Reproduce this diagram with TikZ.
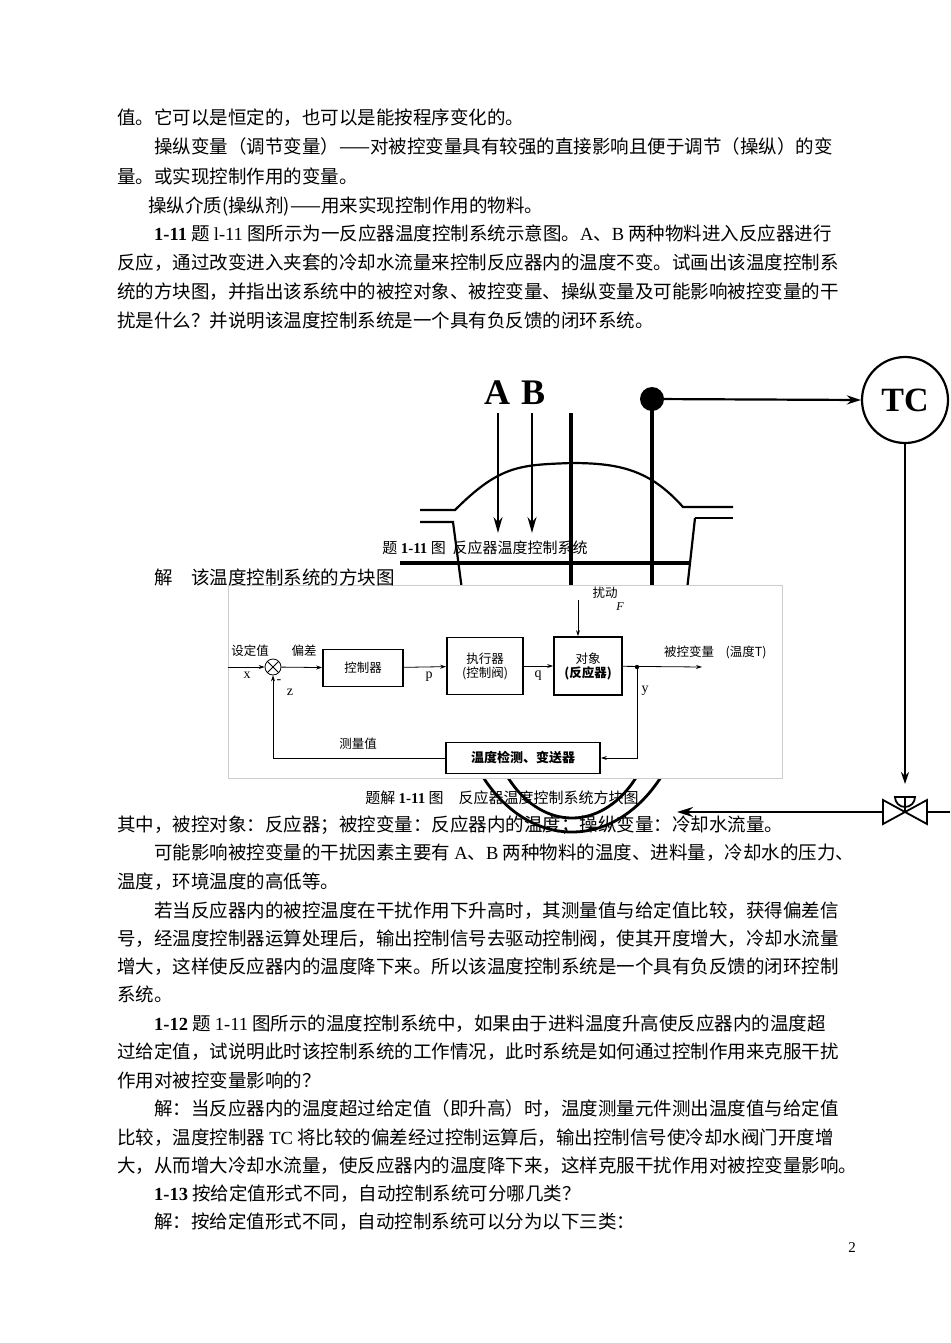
\documentclass[tikz,border=0pt]{standalone}
\usepackage{fontspec}
\setmainfont{Liberation Serif}
\newfontfamily\cjk{Noto Sans CJK SC}
\usetikzlibrary{arrows.meta,calc}
\newcommand\jline[4]{\node[anchor=base west,inner sep=0,font=\cjk\fontsize{18.5}{20}\selectfont] at (#1,#2) {#4};}
\newcommand\pline[3]{\node[anchor=base west,inner sep=0,font=\cjk\fontsize{18.5}{20}\selectfont] at (#1,#2) {#3};}
\tikzset{
 thick line/.style={line width=3.2pt},
 pipe/.style={line width=2.2pt},
 blk/.style={draw,line width=1.8pt,minimum width=#1,minimum height=37pt,inner sep=1pt,font=\cjk\fontsize{12.5}{14}\selectfont,align=center},
 sig/.style={line width=0.8pt,-{Stealth[length=6pt,width=4pt]}},
 lbl/.style={font=\cjk\fontsize{12.5}{14}\selectfont,inner sep=0},
 ltr/.style={font=\rmfamily\fontsize{14}{14}\selectfont,inner sep=0},
}
\begin{document}
\begin{tikzpicture}[x=1pt,y=-1pt]
\useasboundingbox (0,0) rectangle (950,1343);
\fill[white] (0,0) rectangle (950,1343);
% ---------- reactor sketch ----------
\node[font=\rmfamily\bfseries\fontsize{36}{36}\selectfont,inner sep=0] (A) at (497,393) {A};
\node[font=\rmfamily\bfseries\fontsize{36}{36}\selectfont,inner sep=0] (B) at (533,393) {B};
\coordinate (Aend) at (498,533); \coordinate (Bend) at (532,533);
\draw[line width=2pt,-{Stealth[length=16pt,width=9pt]}] (498,413) -- (Aend);
\draw[line width=2pt,-{Stealth[length=16pt,width=9pt]}] (532,413) -- (Bend);
\draw[thick line] (571,413) -- (571,590);
\fill (652,399) circle (12);
\coordinate (dot) at (652,399);
\draw[thick line] (dot) -- (652,590);
\node[draw,circle,line width=2.2pt,minimum size=86pt,inner sep=0,font=\rmfamily\bfseries\fontsize{34}{34}\selectfont] (TC) at (905,400) {TC};
\draw[pipe,-{Stealth[length=14pt,width=9pt]}] (dot) -- (TC.west);
% dome and flanges
\draw[pipe] (420,510) -- (455,510) .. controls (500,465) and (520,465) .. (571,463) .. controls (620,463) and (650,470) .. (683,507) -- (733,507);
\draw[pipe] (695,518) -- (733,518);
\draw[pipe] (420,522) -- (453,522) -- (462,590);
\draw[pipe] (695,518) -- (687,590);
\draw[thick line] (400,563) -- (690,563);
% lower jacket arcs
\begin{scope}
\clip (400,778) rectangle (760,840);
\draw[line width=2.8pt] (572,672) ellipse (118 and 160);
\draw[line width=2.8pt] (572,700) ellipse (85 and 118);
\end{scope}
% valve
\coordinate (vtop) at (905,784);
\draw[pipe,-{Stealth[length=12pt,width=8pt]}] (TC.south) -- (vtop);
\draw[line width=1.8pt] (895,797) arc (180:0:10) -- cycle;
\draw[line width=1.8pt] (905,797) -- (905,812);
\draw[line width=1.8pt] (883,800) -- (883,824) -- (927,800) -- (927,824) -- cycle;
\coordinate (pipeend) at (677,812);
\draw[pipe,-{Stealth[length=16pt,width=10pt]}] (883,812) -- (pipeend);
\draw[pipe] (927,812) -- (950,812);
% ---------- block diagram ----------
\fill[white] (228,585) rectangle (782,778);
\draw[gray!40,line width=0.6pt] (228,585) rectangle (782,778);
\node[draw,circle,line width=0.8pt,minimum size=16pt,inner sep=0] (sum) at (273,667) {};
\draw[line width=0.8pt] ($(sum)+(-5.7,-5.7)$) -- ($(sum)+(5.7,5.7)$) ($(sum)+(-5.7,5.7)$) -- ($(sum)+(5.7,-5.7)$);
\node[blk=80pt] (ctrl) at (363,668) {控制器};
\node[blk=76pt,minimum height=57pt] (act) at (485,666) {执行器\\(控制阀)};
\node[blk=68pt,minimum height=58pt] (obj) at (588,666) {对象\\\bfseries(反应器)};
\node[blk=154pt,minimum height=31pt,font=\cjk\bfseries\fontsize{13}{14}\selectfont] (meas) at (523,758) {温度检测、变送器};
\coordinate (in) at (228,667);
\coordinate (out) at (702,667);
\coordinate (ydot) at (637,667);
\coordinate (Fs) at (578,600);
\draw[sig] (in) -- (sum);
\draw[sig] (sum) -- (ctrl);
\draw[sig] (ctrl) -- (act);
\draw[sig] (act) -- (obj);
\draw[sig] (obj) -- (out);
\draw[sig] (Fs) -- (obj.north -| Fs);
\fill (ydot) circle (2.2);
\draw[sig] (ydot) |- (meas.east);
\draw[sig] (meas.west) -| (sum.south);
\node[lbl] at (250,651) {设定值};
\node[ltr] at (247,675) {x};
\node[lbl] at (304,651) {偏差};
\node[ltr] at (429,677) {p};
\node[ltr] at (538,676) {q};
\node[lbl] at (605,593) {扰动};
\node[ltr,font=\rmfamily\itshape\fontsize{12}{12}\selectfont] at (620,607) {F};
\node[lbl] at (689,652) {被控变量};
\node[lbl] at (746,652) {(温度\textit{T})};
\node[ltr] at (645,691) {y};
\node[ltr] at (279,682) {-};
\node[ltr] at (290,692) {z};
\node[lbl] at (358,744) {测量值};
% ---------- captions ----------
\node[anchor=base,inner sep=0,font=\cjk\fontsize{15}{16}\selectfont] (cap1) at (485,553) {题 {\rmfamily\bfseries 1-11} 图\ \ 反应器温度控制系统};
\node[anchor=base,inner sep=0,font=\cjk\fontsize{15}{16}\selectfont] (cap2) at (502,803) {题解 {\rmfamily\bfseries 1-11} 图\quad 反应器温度控制系统方块图};
% ---------- body text ----------
\pline{117}{125}{值。它可以是恒定的，也可以是能按程序变化的。}
\jline{154}{154}{703}{操纵变量（调节变量）——对被控变量具有较强的直接影响且便于调节（操纵）的变}
\pline{117}{183}{量。或实现控制作用的变量。}
\pline{148}{212}{操纵介质(操纵剂)——用来实现控制作用的物料。}
\jline{154}{240}{703}{{\rmfamily\bfseries 1-11}\ 题 {\rmfamily l-11} 图所示为一反应器温度控制系统示意图。{\rmfamily A}、{\rmfamily B} 两种物料进入反应器进行}
\jline{117}{269}{740}{反应，通过改变进入夹套的冷却水流量来控制反应器内的温度不变。试画出该温度控制系}
\jline{117}{298}{740}{统的方块图，并指出该系统中的被控对象、被控变量、操纵变量及可能影响被控变量的干}
\pline{117}{327}{扰是什么？并说明该温度控制系统是一个具有负反馈的闭环系统。}
\pline{154}{584}{解\quad 该温度控制系统的方块图}
\pline{117}{831}{其中，被控对象：反应器；被控变量：反应器内的温度；操纵变量：冷却水流量。}
\jline{154}{859}{703}{可能影响被控变量的干扰因素主要有 {\rmfamily A}、{\rmfamily B} 两种物料的温度、进料量，冷却水的压力、}
\pline{117}{888}{温度，环境温度的高低等。}
\jline{154}{917}{703}{若当反应器内的被控温度在干扰作用下升高时，其测量值与给定值比较，获得偏差信}
\jline{117}{945}{740}{号，经温度控制器运算处理后，输出控制信号去驱动控制阀，使其开度增大，冷却水流量}
\jline{117}{973}{740}{增大，这样使反应器内的温度降下来。所以该温度控制系统是一个具有负反馈的闭环控制}
\pline{117}{1001}{系统。}
\jline{154}{1030}{703}{{\rmfamily\bfseries 1-12}\ 题 {\rmfamily 1-11} 图所示的温度控制系统中，如果由于进料温度升高使反应器内的温度超}
\jline{117}{1058}{740}{过给定值，试说明此时该控制系统的工作情况，此时系统是如何通过控制作用来克服干扰}
\pline{117}{1087}{作用对被控变量影响的？}
\jline{154}{1115}{703}{解：当反应器内的温度超过给定值（即升高）时，温度测量元件测出温度值与给定值}
\jline{117}{1144}{740}{比较，温度控制器 {\rmfamily TC} 将比较的偏差经过控制运算后，输出控制信号使冷却水阀门开度增}
\jline{117}{1172}{740}{大，从而增大冷却水流量，使反应器内的温度降下来，这样克服干扰作用对被控变量影响。}
\pline{154}{1200}{{\rmfamily\bfseries 1-13}\ 按给定值形式不同，自动控制系统可分哪几类？}
\pline{154}{1228}{解：按给定值形式不同，自动控制系统可以分为以下三类：}
\node[anchor=base,inner sep=0,font=\rmfamily\fontsize{15}{15}\selectfont] (pg) at (852,1252) {2};
\end{tikzpicture}
\end{document}
